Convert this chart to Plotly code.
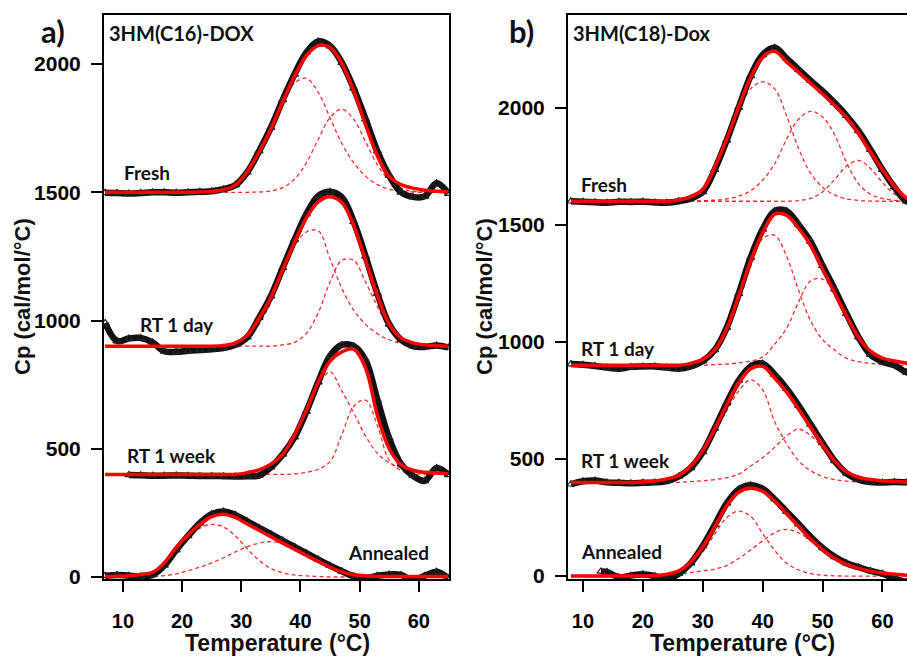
import plotly.graph_objects as go

# ---------------- Panel a) 3HM(C16)-DOX ----------------
TA = [7, 9, 11, 13, 15, 17, 19, 21, 23, 25, 27, 29, 31, 33, 35, 37, 39, 41, 43, 45,
      47, 49, 51, 53, 55, 57, 59, 61, 63, 65]

A_FRESH_DATA = [1498, 1497, 1495, 1497, 1500, 1500, 1498, 1500, 1502, 1504, 1512, 1528, 1578, 1660, 1752,
                1860, 1960, 2045, 2088, 2070, 2005, 1905, 1785, 1660, 1565, 1500, 1482, 1484, 1535, 1495]
A_FRESH_FIT = [1500, 1500, 1500, 1500, 1500, 1500, 1500, 1500, 1501, 1503, 1510, 1528, 1580, 1656, 1747,
               1853, 1953, 2033, 2072, 2065, 2002, 1895, 1763, 1642, 1561, 1530, 1516, 1508, 1504, 1502]
A_FRESH_C1 = [1500, 1500, 1500, 1500, 1500, 1500, 1500, 1500, 1500, 1504, 1512, 1532, 1573, 1645, 1744,
              1849, 1926, 1944, 1890, 1790, 1690, 1615, 1563, 1530, 1512, 1504, 1501, 1500, 1500, 1500]
A_FRESH_C2 = [1500, 1500, 1500, 1500, 1500, 1500, 1500, 1500, 1500, 1500, 1500, 1500, 1500, 1501, 1505,
              1518, 1551, 1615, 1706, 1791, 1824, 1784, 1697, 1607, 1546, 1516, 1504, 1501, 1500, 1500]

A_DAY_DATA = [990, 920, 930, 932, 915, 880, 878, 882, 885, 888, 893, 905, 935, 1010, 1095,
              1205, 1315, 1415, 1485, 1502, 1480, 1385, 1250, 1105, 985, 925, 900, 897, 903, 895]
A_DAY_FIT = [900, 900, 900, 900, 900, 900, 900, 900, 900, 900, 903, 912, 942, 1008, 1090,
             1198, 1305, 1400, 1463, 1483, 1460, 1370, 1235, 1098, 985, 932, 913, 905, 902, 900]
A_DAY_C1 = [900, 900, 900, 900, 900, 900, 900, 900, 900, 900, 900, 905, 925, 985, 1070,
            1185, 1290, 1345, 1350, 1240, 1125, 1040, 985, 948, 925, 912, 905, 902, 900, 900]
A_DAY_C2 = [900, 900, 900, 900, 900, 900, 900, 900, 900, 900, 900, 900, 900, 900, 900,
            905, 915, 950, 1030, 1150, 1235, 1235, 1150, 1055, 970, 925, 910, 904, 901, 900]

TA_WEEK_DATA = [11, 13, 15, 17, 19, 21, 23, 25, 27, 29, 31, 33, 35, 37, 39, 41, 43, 45,
                47, 49, 51, 53, 55, 57, 59, 61, 63, 65]
A_WEEK_DATA = [398, 397, 395, 395, 396, 395, 394, 394, 393, 392, 393, 395, 428, 478,
               545, 645, 760, 862, 905, 900, 845, 690, 540, 440, 395, 375, 425, 398]
A_WEEK_FIT = [400, 400, 400, 400, 400, 400, 400, 400, 400, 400, 400, 400, 407, 418, 440,
              478, 554, 650, 759, 842, 878, 888, 815, 630, 500, 438, 416, 408, 405, 403]
A_WEEK_C1 = [400, 400, 400, 400, 400, 400, 400, 400, 400, 400, 400, 400, 405, 415, 437,
             475, 548, 640, 745, 800, 725, 640, 550, 482, 445, 425, 412, 405, 402, 400]
A_WEEK_C2 = [400, 400, 400, 400, 400, 400, 400, 400, 400, 400, 400, 400, 400, 400, 400,
             400, 402, 408, 420, 450, 555, 665, 690, 590, 455, 415, 404, 400, 400, 400]

A_ANN_DATA = [5, 8, 5, 3, 8, 45, 105, 160, 210, 245, 255, 242, 217, 192, 167,
              142, 117, 93, 68, 44, 22, 3, -5, 5, 10, 8, -12, 5, 20, -5]
A_ANN_FIT = [2, 3, 5, 10, 18, 55, 115, 163, 205, 235, 245, 232, 207, 182, 157,
             132, 108, 84, 61, 38, 20, 9, 5, 3, 2, 2, 2, 2, 2, 2]
A_ANN_C1 = [0, 0, 0, 0, 8, 45, 98, 150, 190, 205, 195, 160, 110, 65, 33,
            16, 8, 4, 2, 0, 0, 0, 0, 0, 0, 0, 0, 0, 0, 0]
A_ANN_C2 = [0, 0, 0, 0, 2, 5, 12, 24, 38, 55, 75, 98, 118, 132, 138,
            130, 108, 82, 58, 37, 20, 9, 4, 2, 0, 0, 0, 0, 0, 0]

# ---------------- Panel b) 3HM(C18)-Dox ----------------
TB = [8, 10, 12, 14, 16, 18, 20, 22, 24, 26, 28, 30, 32, 34, 36, 38, 40, 42, 44, 46,
      48, 50, 52, 54, 56, 58, 60, 62, 64, 66]

B_FRESH_DATA = [1600, 1598, 1596, 1594, 1598, 1597, 1598, 1595, 1594, 1600, 1612, 1640, 1735, 1860, 2000,
                2135, 2225, 2255, 2210, 2162, 2115, 2070, 2020, 1965, 1900, 1820, 1735, 1660, 1600, 1590]
B_FRESH_FIT = [1600, 1600, 1600, 1600, 1600, 1600, 1600, 1600, 1600, 1605, 1620, 1650, 1745, 1865, 2002,
               2128, 2215, 2240, 2195, 2150, 2104, 2058, 2010, 1957, 1890, 1810, 1735, 1665, 1615, 1600]
B_FRESH_C1 = [1600, 1600, 1600, 1600, 1600, 1600, 1600, 1600, 1600, 1604, 1618, 1648, 1740, 1855, 1985,
              2080, 2110, 2080, 1965, 1825, 1720, 1660, 1627, 1610, 1604, 1601, 1600, 1600, 1600, 1600]
B_FRESH_C2 = [1600, 1600, 1600, 1600, 1600, 1600, 1600, 1600, 1600, 1600, 1600, 1602, 1605, 1610, 1622,
              1645, 1690, 1760, 1865, 1950, 1984, 1960, 1885, 1765, 1675, 1630, 1612, 1604, 1601, 1600]
B_FRESH_C3 = [1600, 1600, 1600, 1600, 1600, 1600, 1600, 1600, 1600, 1600, 1600, 1600, 1600, 1600, 1600,
              1600, 1600, 1600, 1600, 1603, 1612, 1640, 1692, 1750, 1774, 1740, 1680, 1630, 1608, 1601]

B_DAY_DATA = [905, 902, 897, 890, 885, 893, 895, 895, 890, 885, 895, 918, 965, 1060, 1205,
              1360, 1480, 1558, 1558, 1500, 1428, 1325, 1225, 1120, 1020, 945, 915, 900, 870, 860]
B_DAY_FIT = [900, 900, 900, 900, 900, 900, 900, 900, 900, 900, 908, 925, 965, 1056, 1195,
             1345, 1465, 1545, 1540, 1485, 1412, 1310, 1210, 1110, 1020, 960, 930, 918, 910, 905]
B_DAY_C1 = [900, 900, 900, 900, 900, 900, 900, 900, 900, 900, 907, 922, 960, 1045, 1170,
            1320, 1440, 1455, 1365, 1220, 1090, 1010, 965, 930, 915, 908, 903, 900, 900, 900]
B_DAY_C2 = [900, 900, 900, 900, 900, 900, 900, 900, 900, 900, 900, 900, 903, 905, 910,
            918, 935, 990, 1058, 1170, 1260, 1268, 1210, 1100, 1000, 950, 925, 912, 905, 902]

B_WEEK_DATA = [392, 405, 408, 400, 398, 396, 398, 400, 405, 425, 462, 530, 630, 738, 835,
               895, 907, 860, 800, 728, 648, 568, 492, 438, 412, 402, 400, 402, 400, 398]
B_WEEK_FIT = [400, 400, 400, 400, 400, 400, 402, 406, 415, 430, 470, 535, 628, 730, 825,
              885, 895, 845, 785, 712, 635, 560, 492, 445, 422, 412, 407, 404, 402, 400]
B_WEEK_C1 = [400, 400, 400, 400, 400, 400, 400, 404, 413, 428, 465, 525, 615, 705, 790,
             838, 795, 660, 565, 492, 450, 425, 412, 405, 402, 400, 400, 400, 400, 400]
B_WEEK_C2 = [400, 400, 400, 400, 400, 400, 400, 400, 400, 400, 403, 407, 412, 420, 435,
             470, 505, 550, 598, 627, 600, 545, 480, 437, 415, 405, 402, 400, 400, 400]

TB_ANN_DATA = [13, 14, 16, 18, 20, 22, 24, 26, 28, 30, 32, 34, 36, 38, 40, 42, 44, 46,
               48, 50, 52, 54, 56, 58, 60, 62, 64, 66]
B_ANN_DATA = [20, 18, -5, 2, 8, 0, -12, 10, 55, 128, 218, 310, 370, 388, 372, 328, 275, 222,
              168, 120, 82, 55, 38, 22, 10, -10, -25, -20]
B_ANN_FIT = [0, 0, 0, 0, 0, 0, 0, 2, 8, 22, 60, 125, 210, 300, 358,
             375, 362, 320, 267, 212, 158, 113, 76, 50, 33, 21, 13, 8, 4, 2]
B_ANN_C1 = [0, 0, 0, 0, 0, 0, 0, 2, 6, 15, 45, 102, 180, 250, 277,
            255, 182, 110, 55, 26, 10, 4, 1, 0, 0, 0, 0, 0, 0, 0]
B_ANN_C2 = [0, 0, 0, 0, 0, 0, 0, 0, 3, 8, 15, 22, 30, 45, 75,
            112, 150, 185, 199, 185, 150, 110, 75, 50, 32, 21, 13, 8, 4, 2]

LABELS = ["Fresh", "RT 1 day", "RT 1 week", "Annealed"]
Y_TICKS = [0, 500, 1000, 1500, 2000]
X_TICKS = [10, 20, 30, 40, 50, 60]

fig = go.Figure()

RED = "#ff0000"


def add_panel(xa, ya, t, comps, data, fit, tdata_list):
    for i in range(len(fit)):
        tt = t[i]
        for c in comps[i]:
            fig.add_trace(go.Scatter(x=tt, y=c, mode="lines", xaxis=xa, yaxis=ya,
                                     line=dict(color="rgba(255,20,20,0.9)", width=1.3,
                                               dash="4px,3px", shape="spline"),
                                     hoverinfo="skip"))
        fig.add_trace(go.Scatter(x=tdata_list[i], y=data[i], mode="lines+markers", xaxis=xa, yaxis=ya,
                                 line=dict(color="#111111", width=6.5, shape="spline"),
                                 marker=dict(symbol="triangle-up-open", size=7, color="#222222",
                                             line=dict(width=1.2, color="#222222")),
                                 hoverinfo="skip"))
        fig.add_trace(go.Scatter(x=tt, y=fit[i], mode="lines", xaxis=xa, yaxis=ya,
                                 line=dict(color=RED, width=3.5, shape="spline"),
                                 hoverinfo="skip"))


add_panel("x", "y", [TA, TA, TA, TA],
          [[A_FRESH_C1, A_FRESH_C2], [A_DAY_C1, A_DAY_C2], [A_WEEK_C1, A_WEEK_C2], [A_ANN_C1, A_ANN_C2]],
          [A_FRESH_DATA, A_DAY_DATA, A_WEEK_DATA, A_ANN_DATA],
          [A_FRESH_FIT, A_DAY_FIT, A_WEEK_FIT, A_ANN_FIT],
          [TA, TA, TA_WEEK_DATA, TA])
add_panel("x2", "y2", [TB, TB, TB, TB],
          [[B_FRESH_C1, B_FRESH_C2, B_FRESH_C3], [B_DAY_C1, B_DAY_C2], [B_WEEK_C1, B_WEEK_C2],
           [B_ANN_C1, B_ANN_C2]],
          [B_FRESH_DATA, B_DAY_DATA, B_WEEK_DATA, B_ANN_DATA],
          [B_FRESH_FIT, B_DAY_FIT, B_WEEK_FIT, B_ANN_FIT],
          [TB, TB, TB, TB_ANN_DATA])

W, H = 907, 663
TICKFONT = dict(family="Liberation Sans, Arial", size=20, color="black", weight="bold")
common_x = dict(ticks="outside", ticklen=11, tickwidth=2, tickcolor="black", showline=True,
                linewidth=2, linecolor="black", showgrid=False, zeroline=False,
                tickvals=X_TICKS, tickfont=TICKFONT, ticklabelstandoff=12)
common_y = dict(ticks="outside", ticklen=11, tickwidth=2, tickcolor="black", showline=True,
                linewidth=2, linecolor="black", showgrid=False, zeroline=False,
                tickvals=Y_TICKS, tickfont=dict(TICKFONT, size=21), ticklabelstandoff=6)

ydom = [1 - 587 / H, 1 - 15 / H]
fig.update_layout(
    width=W, height=H, margin=dict(l=0, r=0, t=0, b=0),
    paper_bgcolor="white", plot_bgcolor="white", showlegend=False,
    xaxis=dict(common_x, domain=[104 / W, 449 / W], range=[6.8, 65.1], anchor="y", mirror=True),
    yaxis=dict(common_y, domain=ydom, range=[-8, 2192], anchor="x", mirror=True),
    xaxis2=dict(common_x, domain=[568 / W, 1.0], range=[7.5, 64.1], anchor="y2", mirror=True),
    yaxis2=dict(common_y, domain=ydom, range=[-12.6, 2396], anchor="x2", mirror=False),
)

LBL = dict(family="Lato, Open Sans", size=19, color="#111111", weight="bold")
ann = []
# sample labels
for xr, yr, pos in [("x", "y", [(9.8, 1577), (12.5, 985), (10.3, 473), (47.7, 96)]),
                    ("x2", "y2", [(9.3, 1673), (9.3, 973), (9.3, 494), (9.3, 104)])]:
    for lab, (px, py) in zip(LABELS, pos):
        ann.append(dict(text=lab, x=px, y=py, xref=xr, yref=yr, xanchor="left", yanchor="middle",
                        showarrow=False, font=LBL))

TITLE = dict(family="Lato, Open Sans", size=20, color="#111111", weight="bold")
ann.append(dict(text="3HM(C16)-DOX", x=107 / W, y=1 - 33 / H, xref="paper", yref="paper",
                xanchor="left", yanchor="middle", showarrow=False, font=TITLE))
ann.append(dict(text="3HM(C18)-Dox", x=571 / W, y=1 - 33 / H, xref="paper", yref="paper",
                xanchor="left", yanchor="middle", showarrow=False, font=TITLE))
PANEL = dict(family="Lato, Open Sans", size=31, color="#111111", weight="bold")
ann.append(dict(text="a)", x=39 / W, y=1 - 31 / H, xref="paper", yref="paper",
                xanchor="left", yanchor="middle", showarrow=False, font=PANEL))
ann.append(dict(text="b)", x=507 / W, y=1 - 31 / H, xref="paper", yref="paper",
                xanchor="left", yanchor="middle", showarrow=False, font=PANEL))

AX = dict(family="Liberation Sans, Arial", size=22, color="#111111", weight="bold")
for cx in (23, 485):
    ann.append(dict(text="Cp (cal/mol/°C)", x=cx / W, y=1 - 301 / H, xref="paper", yref="paper",
                    xanchor="center", yanchor="middle", textangle=-90, showarrow=False, font=AX))
for cx in (277, 742):
    ann.append(dict(text="Temperature (°C)", x=cx / W, y=1 - 652 / H, xref="paper", yref="paper",
                    xanchor="center", yanchor="middle", showarrow=False, font=dict(AX, size=23)))

fig.update_layout(annotations=ann)
fig.write_html("out.html")
